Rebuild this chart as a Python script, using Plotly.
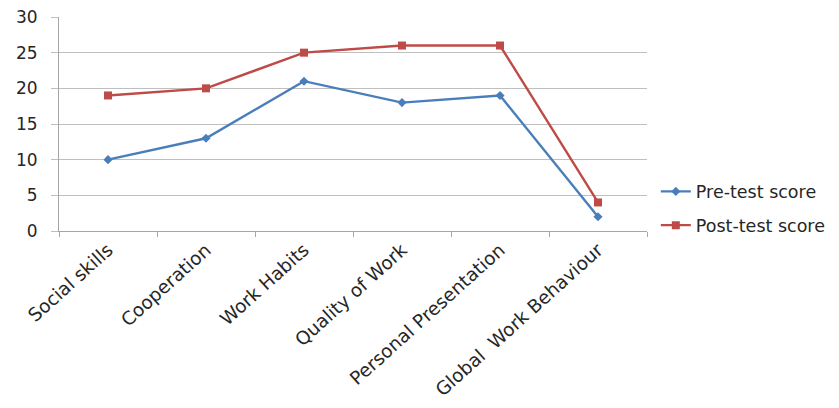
import plotly.graph_objects as go

categories = ["Social skills", "Cooperation", "Work Habits", "Quality of Work",
              "Personal Presentation", "Global  Work Behaviour"]
pre_test = [10, 13, 21, 18, 19, 2]
post_test = [19, 20, 25, 26, 26, 4]

FONT = "DejaVu Sans"
TXT = "#262626"
fig = go.Figure()
fig.add_trace(go.Scatter(x=categories, y=pre_test, name="Pre-test score", mode="lines+markers",
                         legendgroup="a",
                         line=dict(color="#4a7ebb", width=2.4),
                         marker=dict(symbol="diamond", size=7, color="#4a7ebb")))
fig.add_trace(go.Scatter(x=categories, y=post_test, name="Post-test score", mode="lines+markers",
                         legendgroup="b",
                         line=dict(color="#be4b48", width=2.4),
                         marker=dict(symbol="square", size=8, color="#be4b48")))

fig.update_layout(
    width=839, height=408,
    margin=dict(l=59, r=192, t=17, b=177, autoexpand=False),
    paper_bgcolor="white", plot_bgcolor="white",
    font=dict(family=FONT, size=17, color=TXT),
    legend=dict(x=1.015, y=0.105, xanchor="left", yanchor="middle",
                font=dict(size=17.5, color=TXT), traceorder="grouped",
                tracegroupgap=8, itemwidth=30),
    xaxis=dict(type="category", range=[-0.5, 5.5], tickangle=-42, tickson="boundaries",
               ticks="outside", ticklen=5, tickcolor="#a6a6a6", showline=True,
               linecolor="#a6a6a6", linewidth=1, showgrid=False,
               tickfont=dict(size=18.5, color=TXT), automargin=False),
    yaxis=dict(range=[0, 30], dtick=5, showgrid=True, gridcolor="#bfbfbf", gridwidth=1,
               showline=True, linecolor="#a6a6a6", ticks="outside", ticklen=7,
               tickcolor="#bfbfbf", zeroline=False, ticklabelstandoff=10,
               tickfont=dict(size=17, color=TXT), automargin=False),
)
fig.write_html("out.html")
